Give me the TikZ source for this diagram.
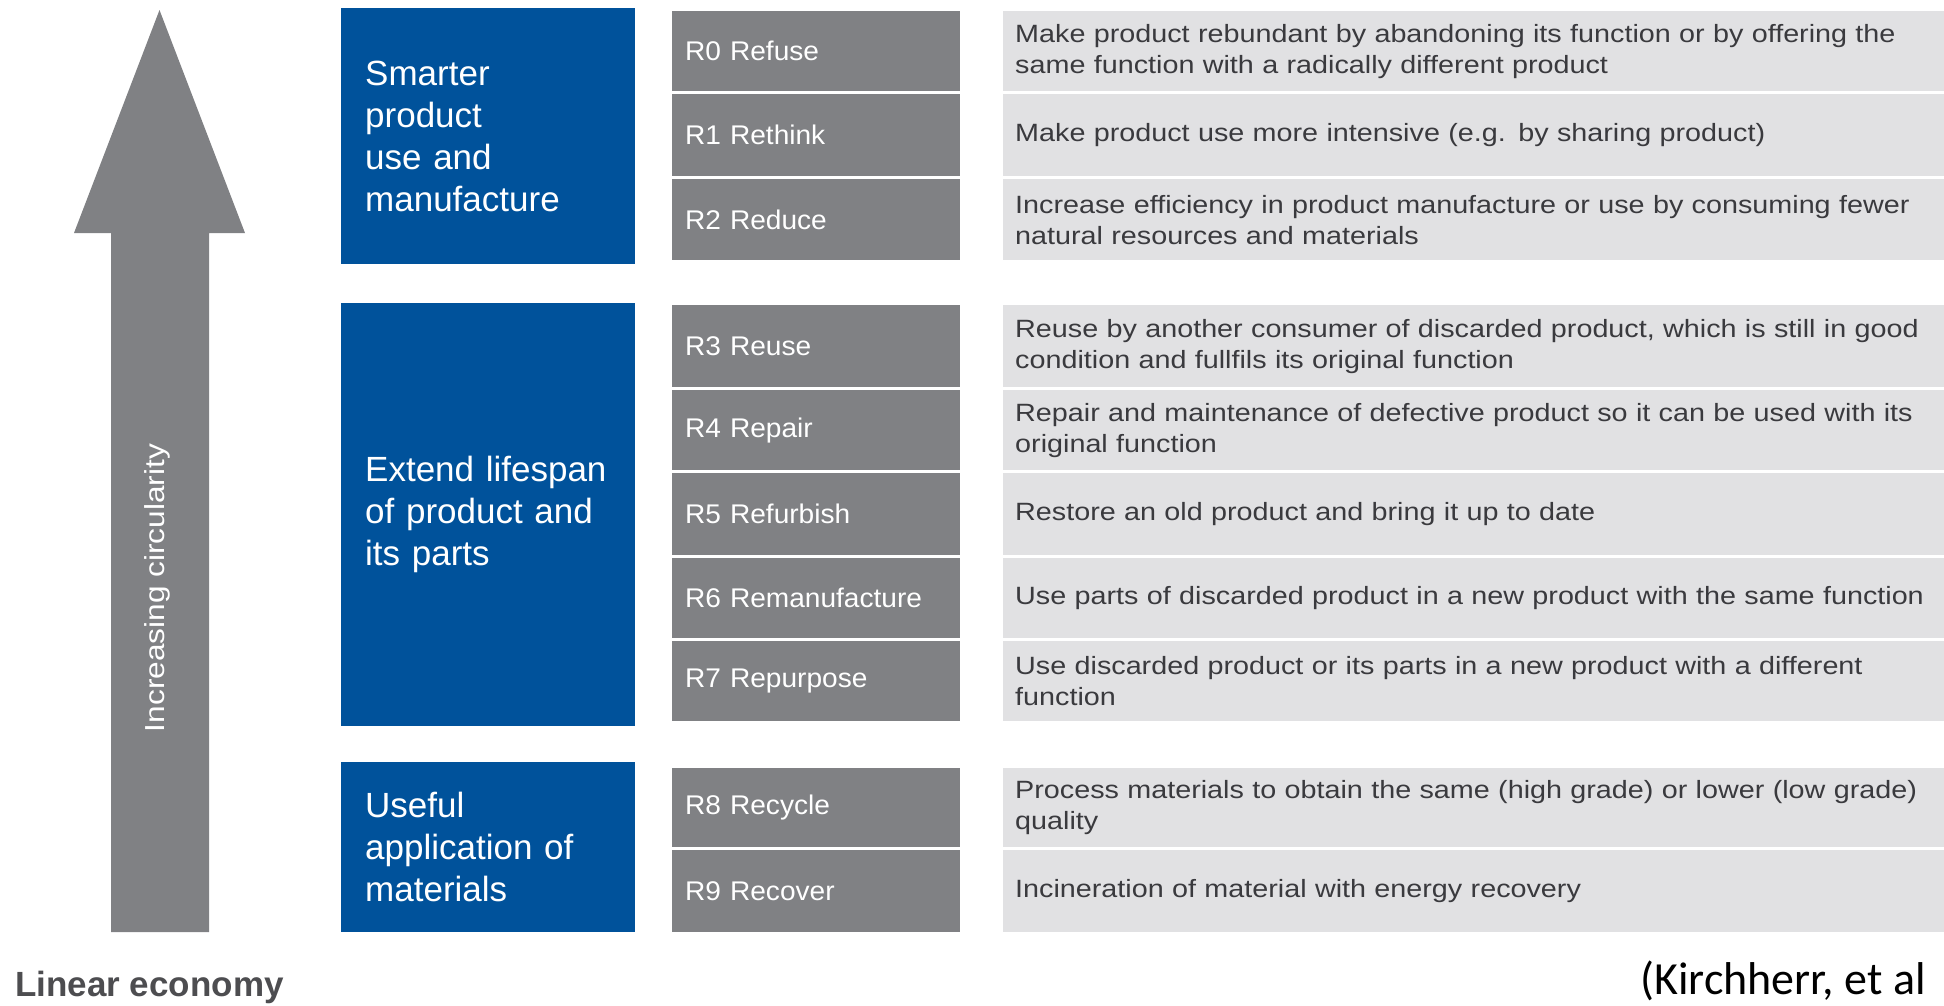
\documentclass[tikz,border=0pt]{standalone}
\usepackage{fontspec}
\setmainfont{Liberation Sans}
\newfontfamily\descfont[FakeStretch=1.15]{Liberation Sans}
\newfontfamily\labfont[FakeStretch=1.04]{Liberation Sans}
\newfontfamily\citefont{Carlito}
\definecolor{blueb}{RGB}{0,82,155}
\definecolor{grayb}{RGB}{128,129,132}
\definecolor{lightb}{RGB}{225,225,227}
\definecolor{desct}{RGB}{58,58,62}
\definecolor{lint}{RGB}{77,77,80}
\tikzset{
  catbox/.style={fill=blueb, text=white, anchor=north west, inner xsep=24pt, inner ysep=0pt,
    text width=246pt, align=left, font=\fontsize{35}{42}\selectfont},
  rlabel/.style={fill=grayb, text=white, anchor=north west, inner xsep=13pt, inner ysep=0pt,
    text width=262pt, align=left, font=\labfont\fontsize{27}{31}\selectfont},
  rdesc/.style={fill=lightb, text=desct, anchor=north west, inner xsep=12pt, inner ysep=0pt,
    text width=917pt, align=left, font=\descfont\fontsize{25}{31}\selectfont},
  arrowbody/.style={fill=grayb},
}
\newcommand\rrow[5]{%
  \node[rlabel, minimum height=#3pt] (#1g) at (672,#2) {#4};
  \node[rdesc, minimum height=#3pt] (#1d) at (1003,#2) {#5};
}
\begin{document}
\begin{tikzpicture}[x=1pt,y=-1pt]
\path[use as bounding box] (0,0) rectangle (1944,1005);
\clip (0,0) rectangle (1944,1005);
% arrow
\fill[arrowbody] (111,932) -- (111,233) -- (74,233) -- (159.5,10) -- (245,233) -- (209,233) -- (209,932) -- cycle;
\node[rotate=90, text=white, font=\descfont\fontsize{27.5}{30}\selectfont, inner sep=0pt] (circ) at (157,588) {Increasing circularity};
% categories
\node[catbox, minimum height=256pt] (cat1) at (341,8) {Smarter\\product\\use and\\manufacture};
\node[catbox, minimum height=423pt] (cat2) at (341,303) {Extend lifespan\\of product and\\its parts};
\node[catbox, minimum height=170pt] (cat3) at (341,762) {Useful\\application of\\materials};
% rows
\rrow{r0}{11}{80}{R0 Refuse}{Make product rebundant by abandoning its function or by offering the\\same function with a radically different product}
\rrow{r1}{94}{82}{R1 Rethink}{Make product use more intensive (e.g. by sharing product)}
\rrow{r2}{179}{81}{R2 Reduce}{Increase efficiency in product manufacture or use by consuming fewer\\natural resources and materials}
\rrow{r3}{305}{82}{R3 Reuse}{Reuse by another consumer of discarded product, which is still in good\\condition and fullfils its original function}
\rrow{r4}{390}{80}{R4 Repair}{Repair and maintenance of defective product so it can be used with its\\original function}
\rrow{r5}{473}{82}{R5 Refurbish}{Restore an old product and bring it up to date}
\rrow{r6}{558}{80}{R6 Remanufacture}{Use parts of discarded product in a new product with the same function}
\rrow{r7}{641}{80}{R7 Repurpose}{Use discarded product or its parts in a new product with a different\\function}
\rrow{r8}{768}{79}{R8 Recycle}{Process materials to obtain the same (high grade) or lower (low grade)\\quality}
\rrow{r9}{850}{82}{R9 Recover}{Incineration of material with energy recovery}
% footer
\node[anchor=base west, inner sep=0pt, text=lint, font=\bfseries\fontsize{35}{40}\selectfont] (lin) at (15,996) {Linear economy};
\node[anchor=base west, inner sep=0pt, text=black, font=\citefont\fontsize{46}{50}\selectfont] (cite) at (1640,994) {(Kirchherr, et al};
\end{tikzpicture}
\end{document}
